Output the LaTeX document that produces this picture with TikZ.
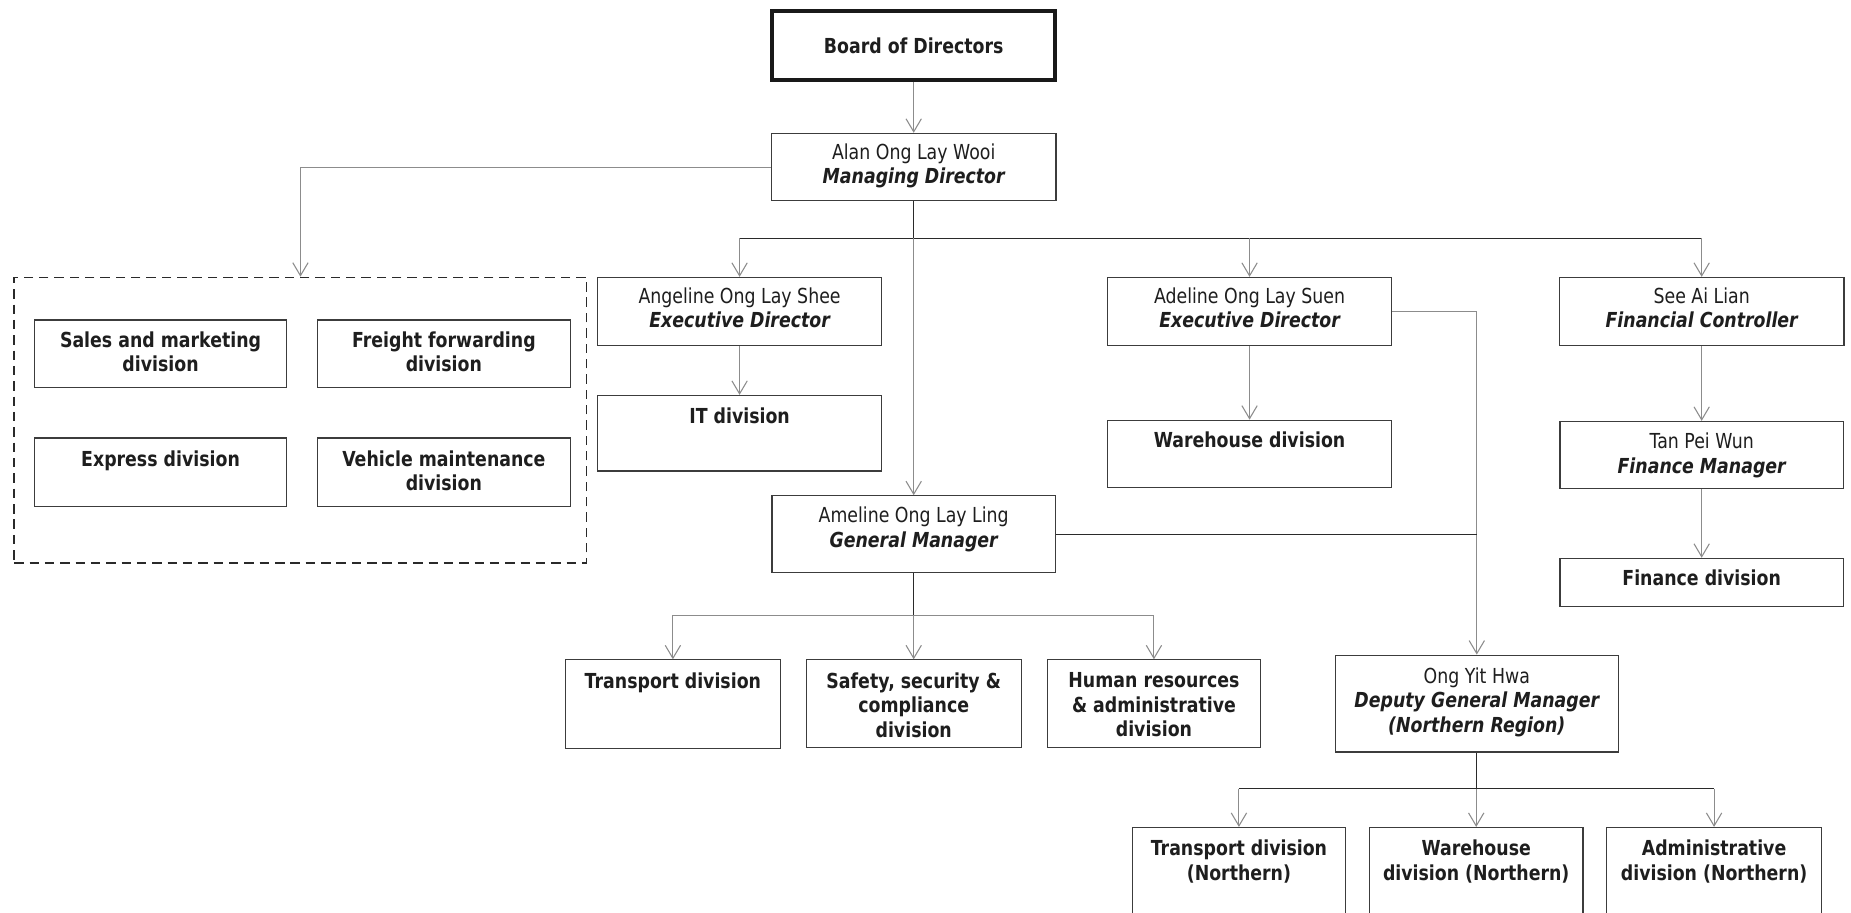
\documentclass[tikz,border=0pt]{standalone}
\usepackage{fontspec}
\setmainfont{DejaVu Sans}[FakeStretch=0.84]
\usetikzlibrary{arrows.meta,calc}
\definecolor{txtc}{HTML}{1E1E1E}
\definecolor{edgec}{HTML}{3C3C3C}
\definecolor{glinec}{HTML}{8C8C8C}
\definecolor{dlinec}{HTML}{2A2A2A}
\tikzset{
  box/.style={draw=edgec, line width=1pt, fill=white, inner sep=0pt},
  lbl/.style={font={\fontsize{17.5}{20.7}\selectfont}, text=txtc, align=center, inner sep=0pt, anchor=north},
  lblb/.style={lbl, font={\fontsize{17.5}{20.7}\selectfont\bfseries}},
  conn/.style={draw=glinec, line width=0.9pt},
  busl/.style={draw=dlinec, line width=1pt},
  arr/.style={-{Straight Barb[length=11pt,width=13pt]}},
  grpbox/.style={draw=dlinec, line width=1.2pt, dash pattern=on 8pt off 5pt, inner sep=0pt},
}
\newcommand{\bi}[1]{{\bfseries\itshape #1}}
\begin{document}
\begin{tikzpicture}[x=1pt,y=-1pt]
\useasboundingbox (0,0) rectangle (1568,773.4);
\clip (0,0) rectangle (1568,773.4);
\fill[white] (0,0) rectangle (1568,773.4);

% Board
\node[box, draw=black!90, line width=3.4pt, minimum width=240pt, minimum height=59pt] (board) at (774,38.5) {};
\node[lblb, anchor=center] (board-t) at (board.center) {Board of Directors};

% Managing director
\node[box, minimum width=241pt, minimum height=57pt] (md) at (774,141.5) {};
\node[lbl] (md-t) at ([yshift=-9pt]md.north) {Alan Ong Lay Wooi\\\bi{Managing Director}};

% dashed group
\node[grpbox, minimum width=485pt, minimum height=242pt] (grp) at (254.5,356) {};
\node[box, minimum width=214pt, minimum height=57pt] (sales) at (136,299.5) {};
\node[lblb] (sales-t) at ([yshift=-10pt]sales.north) {Sales and marketing\\division};
\node[box, minimum width=214pt, minimum height=57pt] (freight) at (376,299.5) {};
\node[lblb] (freight-t) at ([yshift=-10pt]freight.north) {Freight forwarding\\division};
\node[box, minimum width=214pt, minimum height=58pt] (express) at (136,400) {};
\node[lblb] (express-t) at ([yshift=-11pt]express.north) {Express division};
\node[box, minimum width=214pt, minimum height=58pt] (vehicle) at (376,400) {};
\node[lblb] (vehicle-t) at ([yshift=-11pt]vehicle.north) {Vehicle maintenance\\division};

% second row
\node[box, minimum width=241pt, minimum height=58pt] (ang) at (626.5,264) {};
\node[lbl] (ang-t) at ([yshift=-9pt]ang.north) {Angeline Ong Lay Shee\\\bi{Executive Director}};
\node[box, minimum width=241pt, minimum height=64pt] (it) at (626.5,367) {};
\node[lblb] (it-t) at ([yshift=-11pt]it.north) {IT division};

\node[box, minimum width=241pt, minimum height=58pt] (adl) at (1058.5,264) {};
\node[lbl] (adl-t) at ([yshift=-9pt]adl.north) {Adeline Ong Lay Suen\\\bi{Executive Director}};
\node[box, minimum width=241pt, minimum height=57pt] (wh) at (1058.5,384.5) {};
\node[lblb] (wh-t) at ([yshift=-10pt]wh.north) {Warehouse division};

\node[box, minimum width=241pt, minimum height=58pt] (see) at (1441.5,264) {};
\node[lbl] (see-t) at ([yshift=-9pt]see.north) {See Ai Lian\\\bi{Financial Controller}};
\node[box, minimum width=240pt, minimum height=57pt] (tan) at (1441.5,385.5) {};
\node[lbl] (tan-t) at ([yshift=-10pt]tan.north) {Tan Pei Wun\\\bi{Finance Manager}};
\node[box, minimum width=240pt, minimum height=41pt] (fin) at (1441.5,493.5) {};
\node[lblb] (fin-t) at ([yshift=-10pt]fin.north) {Finance division};

% General manager
\node[box, minimum width=240pt, minimum height=65pt] (ame) at (774,452.5) {};
\node[lbl] (ame-t) at ([yshift=-10pt]ame.north) {Ameline Ong Lay Ling\\\bi{General Manager}};

\node[box, minimum width=182pt, minimum height=75pt] (trn) at (570,596.5) {};
\node[lblb] (trn-t) at ([yshift=-11pt]trn.north) {Transport division};
\node[box, minimum width=182pt, minimum height=74pt] (saf) at (774,596) {};
\node[lblb] (saf-t) at ([yshift=-11pt]saf.north) {Safety, security \&\\compliance\\division};
\node[box, minimum width=181pt, minimum height=74pt] (hr) at (977.5,596) {};
\node[lblb] (hr-t) at ([yshift=-11pt]hr.north) {Human resources\\\& administrative\\division};

% Deputy GM
\node[box, minimum width=240pt, minimum height=82pt] (oyh) at (1251,596) {};
\node[lbl] (oyh-t) at ([yshift=-11pt]oyh.north) {Ong Yit Hwa\\\bi{Deputy General Manager}\\\bi{(Northern Region)}};

\node[box, minimum width=181pt, minimum height=120pt] (tn) at (1049.5,761) {};
\node[lblb] (tn-t) at ([yshift=-11pt]tn.north) {Transport division\\(Northern)};
\node[box, minimum width=181pt, minimum height=120pt] (wn) at (1250.5,761) {};
\node[lblb] (wn-t) at ([yshift=-11pt]wn.north) {Warehouse\\division (Northern)};
\node[box, minimum width=182pt, minimum height=120pt] (an) at (1452,761) {};
\node[lblb] (an-t) at ([yshift=-11pt]an.north) {Administrative\\division (Northern)};

% connectors
\draw[conn,arr] (board.south) -- (md.north);
\draw[conn,arr] (md.west) -| (grp.north);

\coordinate (mdbus) at (774,202);
\draw[busl] (md.south) -- (mdbus);
\draw[busl] (ang.north |- mdbus) -- (see.north |- mdbus);
\draw[conn,arr] (ang.north |- mdbus) -- (ang.north);
\draw[conn,arr] (adl.north |- mdbus) -- (adl.north);
\draw[conn,arr] (see.north |- mdbus) -- (see.north);
\draw[conn,arr] (mdbus) -- (ame.north);

\draw[conn,arr] (ang.south) -- (it.north);
\draw[conn,arr] (adl.south) -- (wh.north);
\draw[conn,arr] (see.south) -- (tan.north);
\draw[conn,arr] (tan.south) -- (fin.north);

\draw[conn,arr] (adl.east) -| (oyh.north);
\draw[busl] (ame.east) -- (ame.east -| oyh.north);

\coordinate (amebus) at (774,521);
\draw[busl] (ame.south) -- (amebus);
\draw[conn] (trn.north |- amebus) -- (hr.north |- amebus);
\draw[conn,arr] (trn.north |- amebus) -- (trn.north);
\draw[conn,arr] (amebus) -- (saf.north);
\draw[conn,arr] (hr.north |- amebus) -- (hr.north);

\coordinate (oyhbus) at (1251,668);
\draw[busl] (oyh.south) -- (oyhbus);
\draw[busl] (tn.north |- oyhbus) -- (an.north |- oyhbus);
\draw[conn,arr] (tn.north |- oyhbus) -- (tn.north);
\draw[conn,arr] (wn.north |- oyhbus) -- (wn.north);
\draw[conn,arr] (an.north |- oyhbus) -- (an.north);
\end{tikzpicture}
\end{document}
